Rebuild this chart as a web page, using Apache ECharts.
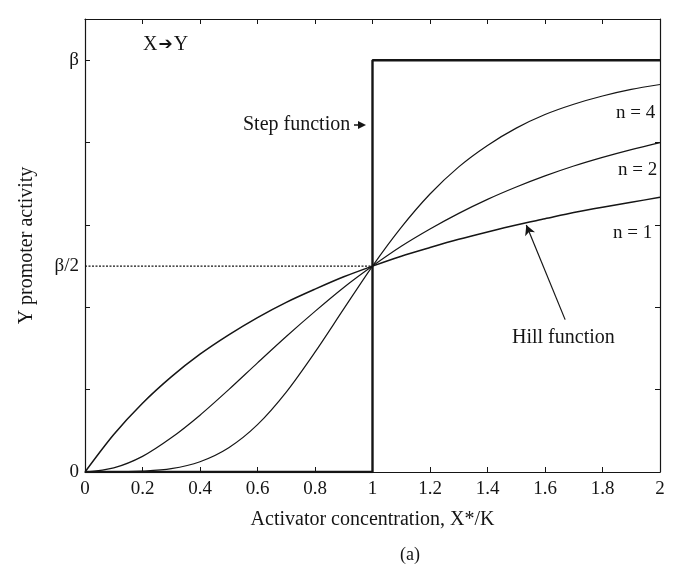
<!DOCTYPE html>
<html><head><meta charset="utf-8">
<script src="https://cdn.jsdelivr.net/npm/echarts@6/dist/echarts.min.js"></script>
<style>html,body{margin:0;padding:0;background:#fff}#c{width:675px;height:565px}</style>
</head><body><div id="c"></div>
<script>
// Activator concentration X*/K sample points
const xs = [0,0.1,0.2,0.3,0.4,0.5,0.6,0.7,0.8,0.9,1.0,1.1,1.2,1.3,1.4,1.5,1.6,1.7,1.8,1.9,2.0];
// Y promoter activity (in units of beta)
const hillN1 = [0,0.091,0.167,0.231,0.286,0.333,0.375,0.412,0.444,0.474,0.5,0.524,0.545,0.565,0.583,0.6,0.615,0.63,0.643,0.655,0.667];
const hillN2 = [0,0.01,0.038,0.083,0.138,0.2,0.265,0.329,0.39,0.448,0.5,0.548,0.59,0.628,0.662,0.692,0.719,0.743,0.764,0.783,0.8];
const hillN4 = [0,0,0.002,0.008,0.025,0.059,0.115,0.194,0.291,0.396,0.5,0.594,0.675,0.741,0.793,0.835,0.868,0.893,0.913,0.929,0.941];
const stepX = [0,1,1,2];
const stepY = [0,0,1,1];
const halfRefX = [0,1];
const halfRefY = [0.5,0.5];
const xTicks = [0,0.2,0.4,0.6,0.8,1,1.2,1.4,1.6,1.8,2];
const yTicks = [0,0.2,0.4,0.6,0.8,1];
const yLabelVals = [0,0.5,1];
const yLabelText = {0:'0',0.5:'β/2',1:'β'};

const zip = (a,b)=>a.map((v,i)=>[v,b[i]]);
const FONT = '"Liberation Serif","DejaVu Serif",serif';
const INK = '#151515';

const chart = echarts.init(document.getElementById('c'));
const axisCommonX = {
  type:'value', min:0, max:2,
  axisLine:{show:true,onZero:false,lineStyle:{color:INK,width:1.2}},
  splitLine:{show:false},
  axisTick:{show:true,inside:true,length:5,customValues:xTicks,lineStyle:{color:INK}}
};
const axisCommonY = {
  type:'value', min:0, max:1.1,
  axisLine:{show:true,onZero:false,lineStyle:{color:INK,width:1.2}},
  splitLine:{show:false},
  axisTick:{show:true,inside:true,length:5,customValues:yTicks,lineStyle:{color:INK}}
};
function txt(x,y,s,size){
  return {type:'text',x:x,y:y,style:{text:s,font:size+'px '+FONT,fill:INK,align:'left',verticalAlign:'middle'}};
}
chart.setOption({
  backgroundColor:'#fff',
  animation:false,
  textStyle:{fontFamily:FONT},
  grid:{left:85,right:15,top:19,bottom:93},
  xAxis:[
    Object.assign({}, axisCommonX, {
      position:'bottom',
      name:'Activator concentration, X*/K', nameLocation:'middle', nameGap:38,
      nameTextStyle:{fontFamily:FONT,fontSize:20,color:INK},
      axisLabel:{customValues:xTicks,margin:8,fontFamily:FONT,fontSize:19,color:INK}
    }),
    Object.assign({}, axisCommonX, {position:'top', axisLabel:{show:false}})
  ],
  yAxis:[
    Object.assign({}, axisCommonY, {
      position:'left',
      name:'Y promoter activity', nameLocation:'middle', nameGap:48,
      nameTextStyle:{fontFamily:FONT,fontSize:20,color:INK},
      axisLabel:{customValues:yLabelVals,margin:6,fontFamily:FONT,fontSize:19,color:INK,
        formatter:v=>yLabelText[Math.round(v*10)/10]}
    }),
    Object.assign({}, axisCommonY, {position:'right', axisLabel:{show:false}})
  ],
  series:[
    {type:'line',name:'half',data:zip(halfRefX,halfRefY),symbol:'none',
     lineStyle:{color:INK,width:1.2,type:[2,1.5]},z:1},
    {type:'line',name:'step',data:zip(stepX,stepY),symbol:'none',
     lineStyle:{color:INK,width:2.4},z:3},
    {type:'line',name:'n=4',data:zip(xs,hillN4),symbol:'none',smooth:0.3,
     lineStyle:{color:INK,width:1.2},z:2},
    {type:'line',name:'n=2',data:zip(xs,hillN2),symbol:'none',smooth:0.3,
     lineStyle:{color:INK,width:1.2},z:2},
    {type:'line',name:'n=1',data:zip(xs,hillN1),symbol:'none',smooth:0.3,
     lineStyle:{color:INK,width:1.5},z:2,
     markLine:{silent:true,symbol:['none','arrow'],symbolSize:[8,10],
       lineStyle:{color:INK,width:1.2,type:'solid'},label:{show:false},
       data:[[{coord:[1.67,0.37]},{coord:[1.535,0.6]}]]}}
  ],
  graphic:[
    {type:'text',x:143,y:45,style:{text:'X{a|➔}Y',font:'20px '+FONT,fill:INK,align:'left',verticalAlign:'middle',
      rich:{a:{font:'17px "DejaVu Sans",sans-serif',fill:INK,padding:[0,1,0,1]}}}},
    txt(243,125,'Step function',20),
    {type:'line',shape:{x1:354,y1:125,x2:361,y2:125},style:{stroke:INK,lineWidth:1.5}},
    {type:'polygon',shape:{points:[[366,125],[358,121],[358,129]]},style:{fill:INK}},
    txt(616,113,'n = 4',19),
    txt(618,170,'n = 2',19),
    txt(613,233,'n = 1',19),
    txt(512,338,'Hill function',20),
    {type:'text',x:410,y:555,style:{text:'(a)',font:'18px '+FONT,fill:INK,align:'center',verticalAlign:'middle'}}
  ]
});
</script></body></html>
